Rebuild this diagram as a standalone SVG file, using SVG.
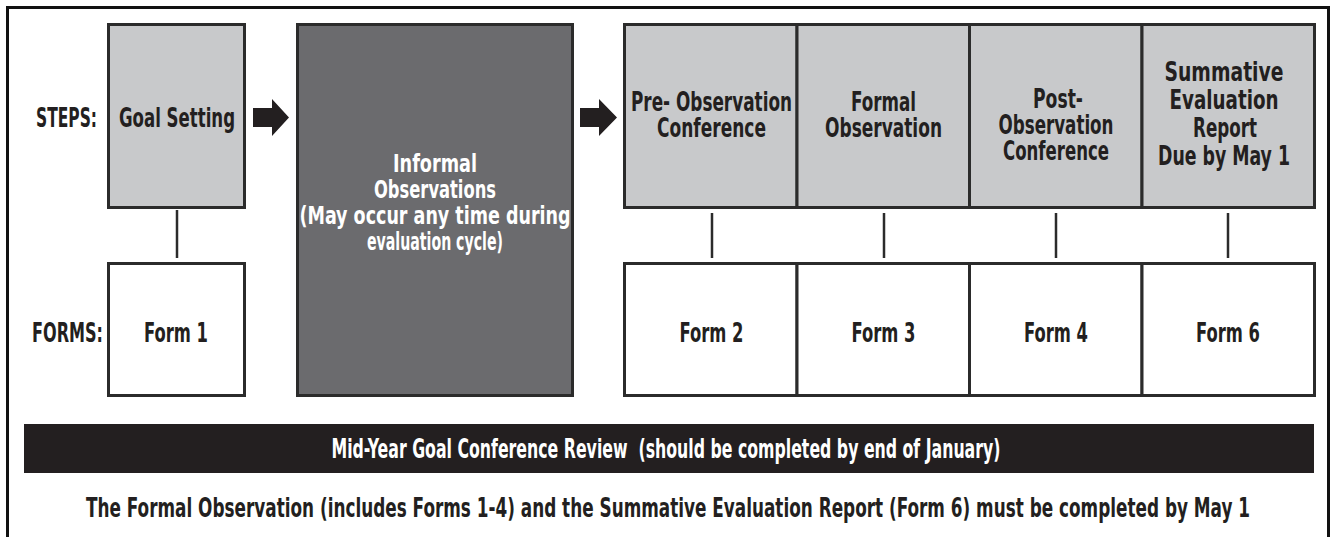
<svg xmlns="http://www.w3.org/2000/svg" width="1333" height="537" viewBox="0 0 1333 537">
<style>
.t{font-family:"Liberation Sans Narrow","DejaVu Sans Condensed","Liberation Sans",sans-serif;font-weight:bold;font-size:26px;fill:#231f20}
.s{font-size:25px}
.w{fill:#ffffff}
.c{text-anchor:middle}
.step{fill:#c8c9cb;stroke:#2b2b2b;stroke-width:3}
.form{fill:#ffffff;stroke:#2b2b2b;stroke-width:3}
.conn line{stroke:#2b2b2b;stroke-width:2.5}
.arr{fill:#231f20}
</style>
<rect x="0" y="0" width="1333" height="537" fill="#ffffff"/>
<path d="M7.5,537 V7.5 H1328.5 V537" fill="none" stroke="#111" stroke-width="3"/>
<g id="labels">
<text class="t" x="36" y="127" textLength="61" lengthAdjust="spacingAndGlyphs">STEPS:</text>
<text class="t" x="32" y="342" textLength="71" lengthAdjust="spacingAndGlyphs">FORMS:</text>
</g>
<g id="connectors" class="conn">
<line x1="177" y1="210" x2="177" y2="258"/>
<line x1="712" y1="213" x2="712" y2="258"/>
<line x1="884" y1="213" x2="884" y2="258"/>
<line x1="1056" y1="213" x2="1056" y2="258"/>
<line x1="1228" y1="213" x2="1228" y2="258"/>
<polygon class="arr" points="253,108 272,108 272,99 289,117.5 272,136 272,127 253,127"/>
<polygon class="arr" points="580,108 599,108 599,99 617,117.5 599,136 599,127 580,127"/>
</g>
<g id="goal-setting">
<rect class="step" x="108.5" y="24.5" width="136" height="183"/>
<text class="t c" x="177" y="127" textLength="116" lengthAdjust="spacingAndGlyphs">Goal Setting</text>
</g>
<g id="form1">
<rect class="form" x="108.5" y="263.5" width="136" height="132"/>
<text class="t c" x="176" y="342" textLength="64" lengthAdjust="spacingAndGlyphs">Form 1</text>
</g>
<g id="informal">
<rect x="297.5" y="24.5" width="275" height="371" fill="#6b6b6e" stroke="#2b2b2b" stroke-width="3"/>
<text class="t s w c" x="435" y="172" textLength="84" lengthAdjust="spacingAndGlyphs">Informal</text>
<text class="t s w c" x="435" y="198" textLength="122" lengthAdjust="spacingAndGlyphs">Observations</text>
<text class="t s w c" x="435" y="224" textLength="271" lengthAdjust="spacingAndGlyphs">(May occur any time during</text>
<text class="t s w c" x="435" y="250" textLength="136" lengthAdjust="spacingAndGlyphs">evaluation cycle)</text>
</g>
<g id="pre-observation">
<rect class="step" x="624.5" y="24.5" width="172.5" height="183"/>
<text class="t c" x="711.5" y="111" textLength="161" lengthAdjust="spacingAndGlyphs">Pre- Observation</text>
<text class="t c" x="711.5" y="137" textLength="109" lengthAdjust="spacingAndGlyphs">Conference</text>
</g>
<g id="formal-observation">
<rect class="step" x="797" y="24.5" width="172.5" height="183"/>
<text class="t c" x="883.5" y="111" textLength="65" lengthAdjust="spacingAndGlyphs">Formal</text>
<text class="t c" x="883.5" y="137" textLength="117" lengthAdjust="spacingAndGlyphs">Observation</text>
</g>
<g id="post-observation">
<rect class="step" x="969.5" y="24.5" width="172.5" height="183"/>
<text class="t c" x="1058" y="108" textLength="50" lengthAdjust="spacingAndGlyphs">Post-</text>
<text class="t c" x="1056" y="134" textLength="115" lengthAdjust="spacingAndGlyphs">Observation</text>
<text class="t c" x="1056" y="160" textLength="106" lengthAdjust="spacingAndGlyphs">Conference</text>
</g>
<g id="summative">
<rect class="step" x="1142" y="24.5" width="172.5" height="183"/>
<text class="t c" x="1224" y="81" textLength="119" lengthAdjust="spacingAndGlyphs">Summative</text>
<text class="t c" x="1224" y="109" textLength="109" lengthAdjust="spacingAndGlyphs">Evaluation</text>
<text class="t c" x="1225" y="137" textLength="64" lengthAdjust="spacingAndGlyphs">Report</text>
<text class="t c" x="1224" y="165" textLength="132" lengthAdjust="spacingAndGlyphs">Due by May 1</text>
</g>
<g id="form2">
<rect class="form" x="624.5" y="263.5" width="172.5" height="132"/>
<text class="t c" x="711.5" y="342" textLength="64" lengthAdjust="spacingAndGlyphs">Form 2</text>
</g>
<g id="form3">
<rect class="form" x="797" y="263.5" width="172.5" height="132"/>
<text class="t c" x="883.5" y="342" textLength="64" lengthAdjust="spacingAndGlyphs">Form 3</text>
</g>
<g id="form4">
<rect class="form" x="969.5" y="263.5" width="172.5" height="132"/>
<text class="t c" x="1056" y="342" textLength="64" lengthAdjust="spacingAndGlyphs">Form 4</text>
</g>
<g id="form6">
<rect class="form" x="1142" y="263.5" width="172.5" height="132"/>
<text class="t c" x="1228" y="342" textLength="64" lengthAdjust="spacingAndGlyphs">Form 6</text>
</g>
<g id="mid-year">
<rect x="24" y="424" width="1290" height="49" fill="#231f20"/>
<text class="t w c" x="666" y="458" textLength="669" lengthAdjust="spacingAndGlyphs">Mid-Year Goal Conference Review &#160;(should be completed by end of January)</text>
</g>
<g id="note">
<text class="t c" x="668" y="517" textLength="1164" lengthAdjust="spacingAndGlyphs">The Formal Observation (includes Forms 1-4) and the Summative Evaluation Report (Form 6) must be completed by May 1</text>
</g>
</svg>
